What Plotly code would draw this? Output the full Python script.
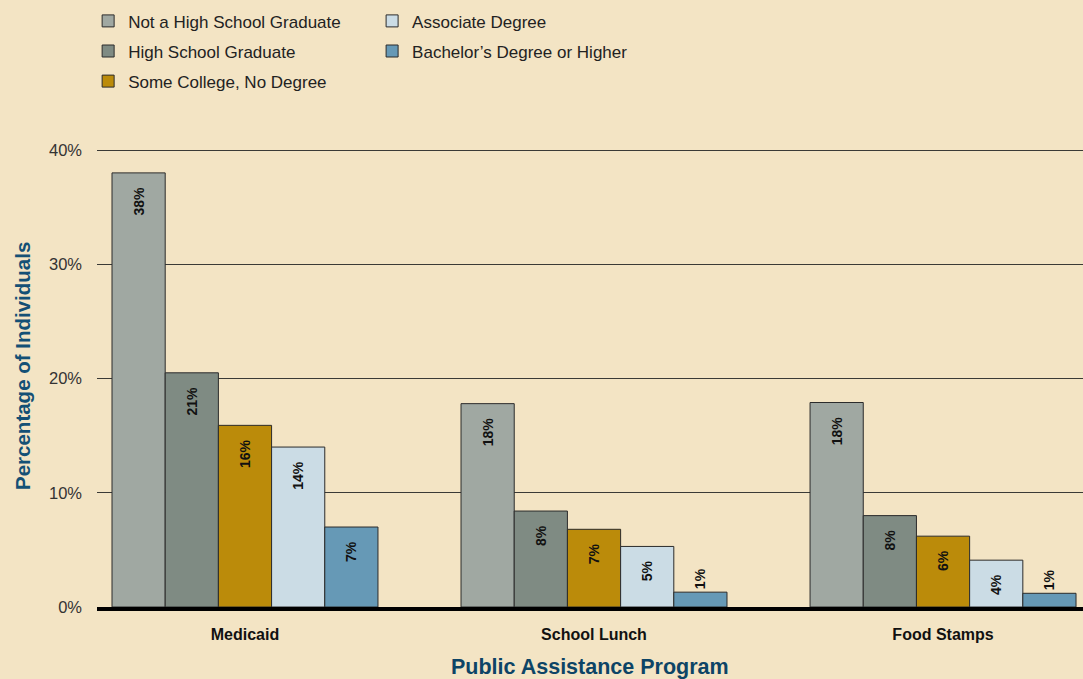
import plotly.graph_objects as go

categories = ["Medicaid", "School Lunch", "Food Stamps"]
series_names = [
    "Not a High School Graduate",
    "High School Graduate",
    "Some College, No Degree",
    "Associate Degree",
    "Bachelor\u2019s Degree or Higher",
]
not_hs = [38.0, 17.8, 17.9]
hs_grad = [20.5, 8.4, 8.0]
some_college = [15.9, 6.8, 6.2]
associate = [14.0, 5.3, 4.1]
bachelor = [7.0, 1.3, 1.2]

not_hs_labels = ["38%", "18%", "18%"]
hs_grad_labels = ["21%", "8%", "8%"]
some_college_labels = ["16%", "7%", "6%"]
associate_labels = ["14%", "5%", "4%"]
bachelor_labels = ["7%", "1%", "1%"]

y_ticks = [0, 10, 20, 30, 40]
y_tick_labels = ["0%", "10%", "20%", "30%", "40%"]

colors = ["#a0a8a2", "#7f8b83", "#bb8b0a", "#cbdce5", "#6699b6"]
values = [not_hs, hs_grad, some_college, associate, bachelor]
labels = [not_hs_labels, hs_grad_labels, some_college_labels, associate_labels, bachelor_labels]
legends = ["legend", "legend", "legend", "legend2", "legend2"]

FONT = "Liberation Sans, Arial, Helvetica, sans-serif"
BG = "#f3e4c4"
PAD = "\u00a0\u00a0\u00a0"

fig = go.Figure()
for i, (name, vals, labs, col, lg) in enumerate(zip(series_names, values, labels, colors, legends)):
    positions = ["inside" if v > 3 else "outside" for v in vals]
    templates = ["%{text}" + PAD if v > 3 else "%{text}" for v in vals]
    fig.add_trace(go.Bar(
        x=categories, y=vals, name=name,
        text=labs, texttemplate=templates,
        textposition=positions, insidetextanchor="end",
        textangle=-90, constraintext="none",
        textfont=dict(family=FONT, size=14, color="#111111", weight="bold"),
        marker=dict(color=col, line=dict(color="#2b2b2b", width=1)),
        legend=lg, legendgroup=name, cliponaxis=False,
        hoverinfo="skip",
    ))

fig.update_layout(
    width=1083, height=679,
    paper_bgcolor=BG, plot_bgcolor=BG,
    barmode="group", bargap=0.238, bargroupgap=0,
    margin=dict(l=97, r=0, t=149, b=72),
    font=dict(family=FONT, color="#222222"),
    showlegend=True,
    legend=dict(
        x=-0.009, y=1.318, xanchor="left", yanchor="top",
        orientation="v", bgcolor="rgba(0,0,0,0)",
        font=dict(family=FONT, size=17, color="#222222"),
        tracegroupgap=5, itemwidth=30,
    ),
    legend2=dict(
        x=0.279, y=1.318, xanchor="left", yanchor="top",
        orientation="v", bgcolor="rgba(0,0,0,0)",
        font=dict(family=FONT, size=17, color="#222222"),
        tracegroupgap=5, itemwidth=30,
    ),
    xaxis=dict(
        range=[-0.424, 2.401],
        showgrid=False, showline=True, linecolor="#000000", linewidth=4,
        ticks="", tickfont=dict(family=FONT, size=16, color="#111111", weight="bold"),
        ticklabelstandoff=10, fixedrange=True,
    ),
    yaxis=dict(
        range=[0, 40.09], tickvals=y_ticks, ticktext=y_tick_labels,
        showgrid=True, gridcolor="#3a3a36", gridwidth=1,
        zeroline=False, showline=False, ticks="",
        tickfont=dict(family=FONT, size=16.5, color="#333333"),
        ticklabelstandoff=14, fixedrange=True,
    ),
    annotations=[
        dict(text="<b>Percentage of Individuals</b>", textangle=-90,
             xref="paper", yref="paper", x=0, y=0.5, xshift=-75, yshift=12,
             xanchor="center", yanchor="middle", showarrow=False,
             font=dict(family=FONT, size=20.5, color="#145075")),
        dict(text="<b>Public Assistance Program</b>",
             xref="paper", yref="paper", x=0.5, y=0, yshift=-60,
             xanchor="center", yanchor="middle", showarrow=False,
             font=dict(family=FONT, size=21.5, color="#0d4466")),
    ],
)

fig.write_html(
    "out.html",
    config={"displayModeBar": False},
    post_script="document.body.style.margin='0';document.body.style.background='#f3e4c4';",
)
